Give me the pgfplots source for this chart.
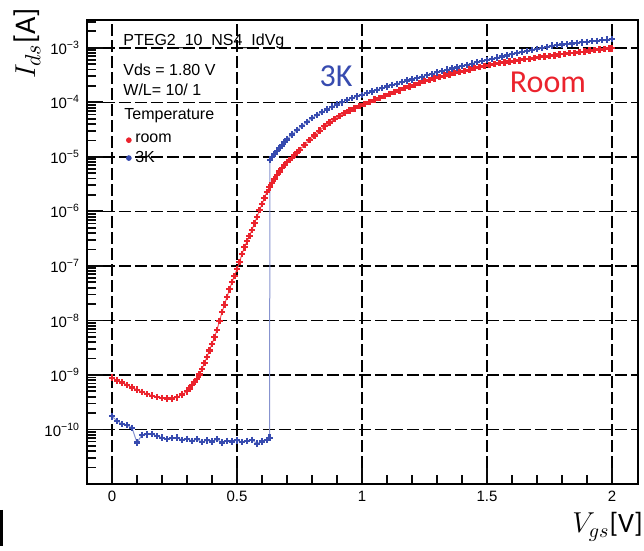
\documentclass[border=0pt]{standalone}
\usepackage{fontspec}
\setmainfont{Liberation Sans}
\newfontfamily\calibri{Carlito}
\usepackage{pgfplots}
\usepackage{pgfplotstable}
\pgfplotsset{compat=1.18}
\definecolor{cRoom}{RGB}{235,35,45}
\definecolor{cCold}{RGB}{55,75,175}
\definecolor{cTick}{RGB}{10,10,10}

\pgfplotsset{
  idframe/.style={
    scale only axis,
    width=275.5pt, height=232pt,
    xmin=-0.1, xmax=2.104,
    ymin=1e-11, ymax=3.236e-3,
    xtick={0,0.5,1,1.5,2},
    minor x tick num=4,
    ytick={1e-11,1e-10,1e-9,1e-8,1e-7,1e-6,1e-5,1e-4,1e-3},
    minor ytick={2e-11,3e-11,4e-11,5e-11,6e-11,7e-11,8e-11,9e-11,
      2e-10,3e-10,4e-10,5e-10,6e-10,7e-10,8e-10,9e-10,
      2e-9,3e-9,4e-9,5e-9,6e-9,7e-9,8e-9,9e-9,
      2e-8,3e-8,4e-8,5e-8,6e-8,7e-8,8e-8,9e-8,
      2e-7,3e-7,4e-7,5e-7,6e-7,7e-7,8e-7,9e-7,
      2e-6,3e-6,4e-6,5e-6,6e-6,7e-6,8e-6,9e-6,
      2e-5,3e-5,4e-5,5e-5,6e-5,7e-5,8e-5,9e-5,
      2e-4,3e-4,4e-4,5e-4,6e-4,7e-4,8e-4,9e-4,
      2e-3,3e-3},
    tick pos=left,
    tick align=inside,
    major tick length=8pt,
    minor tick length=4.5pt,
    every tick/.style={draw=cTick, line width=0.9pt},
    axis line style={line width=1pt},
  },
}

% log10 of I_ds [A] versus V_gs [V]
\pgfplotstableread{
V lg
0.00 -9.05
0.02 -9.10
0.04 -9.14
0.06 -9.18
0.08 -9.23
0.10 -9.27
0.12 -9.31
0.14 -9.35
0.16 -9.38
0.18 -9.40
0.20 -9.42
0.22 -9.43
0.24 -9.43
0.26 -9.41
0.28 -9.36
0.30 -9.30
0.31 -9.25
0.32 -9.19
0.33 -9.13
0.34 -9.07
0.35 -8.99
0.36 -8.89
0.37 -8.78
0.38 -8.67
0.39 -8.55
0.40 -8.43
0.41 -8.31
0.42 -8.17
0.43 -8.01
0.44 -7.85
0.45 -7.71
0.46 -7.57
0.47 -7.43
0.48 -7.30
0.49 -7.18
0.50 -7.06
0.51 -6.93
0.52 -6.78
0.53 -6.66
0.54 -6.55
0.55 -6.45
0.56 -6.34
0.57 -6.22
0.58 -6.10
0.59 -5.98
0.60 -5.87
0.61 -5.75
0.62 -5.64
0.63 -5.56
0.64 -5.48
0.65 -5.41
0.66 -5.34
0.67 -5.27
0.68 -5.20
0.69 -5.15
0.70 -5.10
0.71 -5.06
0.72 -5.02
0.73 -4.97
0.74 -4.92
0.75 -4.87
0.77 -4.78
0.79 -4.69
0.81 -4.61
0.83 -4.52
0.85 -4.44
0.87 -4.37
0.89 -4.31
0.91 -4.25
0.93 -4.20
0.95 -4.15
0.97 -4.11
0.99 -4.07
1.01 -4.03
1.03 -3.99
1.05 -3.95
1.07 -3.92
1.09 -3.88
1.11 -3.85
1.13 -3.81
1.15 -3.78
1.17 -3.74
1.19 -3.71
1.21 -3.68
1.23 -3.64
1.25 -3.61
1.27 -3.59
1.29 -3.56
1.31 -3.54
1.33 -3.51
1.35 -3.49
1.37 -3.46
1.39 -3.44
1.41 -3.42
1.43 -3.40
1.45 -3.37
1.47 -3.35
1.49 -3.33
1.51 -3.31
1.53 -3.30
1.55 -3.28
1.57 -3.27
1.59 -3.25
1.61 -3.24
1.63 -3.23
1.65 -3.21
1.67 -3.20
1.69 -3.19
1.71 -3.17
1.73 -3.16
1.75 -3.15
1.77 -3.14
1.79 -3.12
1.81 -3.11
1.83 -3.10
1.85 -3.09
1.87 -3.08
1.89 -3.07
1.91 -3.05
1.93 -3.04
1.95 -3.03
1.97 -3.02
1.99 -3.01
2.00 -3.01
}\roomdata

\pgfplotstableread{
V lg
0.00 -9.76
0.02 -9.84
0.04 -9.90
0.06 -9.92
0.08 -9.97
0.10 -10.24
0.12 -10.10
0.14 -10.09
0.16 -10.08
0.18 -10.12
0.20 -10.15
0.22 -10.18
0.24 -10.16
0.26 -10.15
0.28 -10.19
0.30 -10.17
0.32 -10.21
0.34 -10.18
0.36 -10.23
0.38 -10.20
0.40 -10.22
0.42 -10.18
0.44 -10.24
0.46 -10.21
0.48 -10.22
0.50 -10.20
0.52 -10.23
0.54 -10.21
0.56 -10.19
0.58 -10.26
0.60 -10.22
0.62 -10.19
0.63 -10.15
0.632 -5.06
0.64 -5.00
0.65 -4.95
0.66 -4.89
0.67 -4.84
0.68 -4.79
0.69 -4.73
0.70 -4.68
0.72 -4.59
0.74 -4.51
0.76 -4.43
0.78 -4.36
0.80 -4.29
0.82 -4.23
0.84 -4.18
0.86 -4.13
0.88 -4.08
0.90 -4.04
0.92 -4.00
0.94 -3.96
0.96 -3.92
0.98 -3.89
1.00 -3.86
1.02 -3.83
1.04 -3.80
1.06 -3.77
1.08 -3.74
1.10 -3.71
1.12 -3.68
1.14 -3.66
1.16 -3.63
1.18 -3.60
1.20 -3.58
1.22 -3.55
1.24 -3.53
1.26 -3.50
1.28 -3.48
1.30 -3.45
1.32 -3.43
1.34 -3.40
1.36 -3.38
1.38 -3.36
1.40 -3.33
1.42 -3.31
1.44 -3.29
1.46 -3.26
1.48 -3.24
1.50 -3.22
1.52 -3.20
1.54 -3.18
1.56 -3.16
1.58 -3.14
1.60 -3.12
1.62 -3.10
1.64 -3.08
1.66 -3.06
1.68 -3.04
1.70 -3.02
1.72 -3.00
1.74 -2.98
1.76 -2.96
1.78 -2.95
1.80 -2.94
1.82 -2.93
1.84 -2.92
1.86 -2.91
1.88 -2.90
1.90 -2.89
1.92 -2.88
1.94 -2.87
1.96 -2.86
1.98 -2.85
2.00 -2.84
}\colddata

\begin{document}
\begin{tikzpicture}
\useasboundingbox (-43.5pt,-33.5pt) rectangle (278.5pt,242pt);
\begin{axis}[
  ymode=log,
  idframe,
  grid=major,
  major grid style={black, line width=0.7pt, dash pattern=on 6pt off 2pt},
  ticklabel style={font=\fontsize{7.5}{9}\selectfont},
  xticklabel={\pgfmathprintnumber[assume math mode=true]{\tick}},
  yticklabel={\pgfmathtruncatemacro\ex{round(-\tick/2.302585)}\ifnum\ex=11 \else 10\textsuperscript{−\ex}\fi},
  legend style={at={(axis description cs:0.06,0.7716)}, anchor=north west,
    draw=none, fill=none, row sep=-1.5pt,
    font=\fontsize{8}{9.6}\selectfont},
  legend cell align=left,
]
\addplot[forget plot, cRoom!75, line width=0.5pt, mark=+, mark size=1.6pt,
  mark options={cRoom, line width=1.1pt}]
  table[x=V, y expr={10^(\thisrow{lg})}] {\roomdata};
\addplot[forget plot, cCold!60, line width=0.5pt, mark=+, mark size=1.6pt,
  mark options={cCold, line width=1.1pt}]
  table[x=V, y expr={10^(\thisrow{lg})}] {\colddata};
\addlegendimage{only marks, mark=*, mark size=1.2pt, cRoom}
\addlegendentry{room}
\addlegendimage{only marks, mark=*, mark size=1.2pt, cCold}
\addlegendentry{3K}
\end{axis}

% second frame on top: the inside ticks of the ROOT-style axes
\begin{axis}[ymode=log, idframe, xticklabels={}, yticklabels={}]
\addplot[draw=none, forget plot] coordinates {(0,1e-9)(1,1e-5)};
\end{axis}

\begin{scope}[font=\fontsize{8}{9.6}\selectfont]
\node[anchor=base west, inner sep=0pt] at (18pt,219pt) {PTEG2\_10\_NS4\_IdVg};
\node[anchor=base west, inner sep=0pt] at (18pt,204pt) {Vds = 1.80 V};
\node[anchor=base west, inner sep=0pt] at (18pt,194pt) {W/L= 10/ 1};
\node[anchor=base west, inner sep=0pt] at (18.5pt,182pt) {Temperature};
\end{scope}

\node[anchor=base, text=cCold, font=\calibri\fontsize{16}{19}\selectfont] at (124.5pt,198.5pt) {3K};
\node[anchor=base, text=cRoom, font=\calibri\fontsize{16}{19}\selectfont] at (230.5pt,195.5pt) {Room};

\node[rotate=90, anchor=center, font=\fontsize{15}{18}\selectfont] at (-30pt,220.25pt) {$I_{ds}${\calibri[A]}};
\node[anchor=base east, inner sep=0pt, font=\fontsize{14}{17}\selectfont] at (278pt,-24.5pt) {$V_{gs}${\calibri[V]}};

\draw[line width=1.3pt] (-42.75pt,-13pt) -- (-42.75pt,-31pt);
\end{tikzpicture}
\end{document}
